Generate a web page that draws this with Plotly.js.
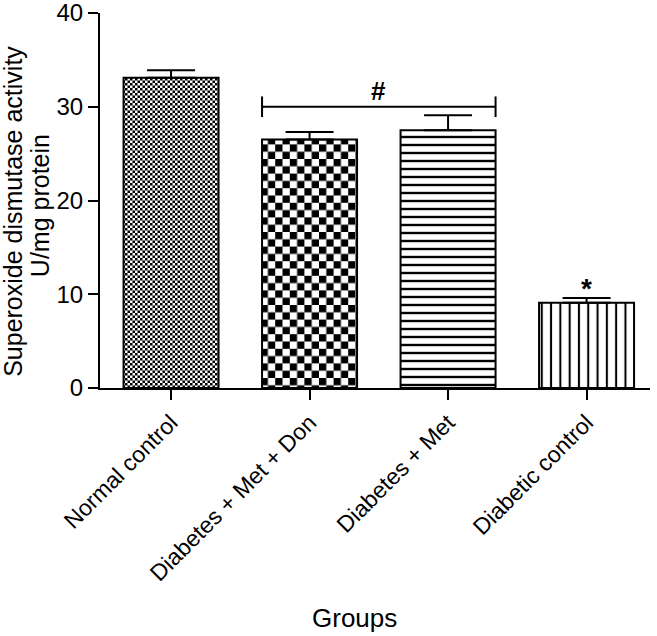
<!DOCTYPE html>
<html>
<head>
<meta charset="utf-8">
<script src="https://cdn.plot.ly/plotly-3.0.1.min.js"></script>
<style>
  body { margin: 0; background: white; }
  #chart { width: 657px; height: 636px; }
</style>
</head>
<body>
<div id="chart"></div>
<script>
// superoxide dismutase activity per group, mean + sem (upper only, graphpad style)
var groups = ["Normal control", "Diabetes + Met + Don", "Diabetes + Met", "Diabetic control"];
var sod = [33.1, 26.5, 27.5, 9.1];
var sem = [0.8, 0.8, 1.6, 0.5];
var noLower = [0, 0, 0, 0];

// significance marks
var hashGroups = [1, 2];   // bracket spans these two bars
var hashLevel = 30;
var starGroup = 3;
var starLevel = 10.6;

var yTitle = ["Superoxide dismutase activity", "U/mg protein"];

var barWidth = 0.686;
var fontFam = "Liberation Sans, Arial, sans-serif";

var trace = {
    x: groups,
    y: sod,
    type: "bar",
    width: barWidth,
    marker: {
        color: "white",
        line: {color: "black", width: 2},
        pattern: {
            // "." ones get swapped for checkerboards after drawing
            shape: [".", ".", "-", "|"],
            size: [5, 14.6, 8, 9.3],
            solidity: [0.5, 0.5, 0.3, 0.22],
            fgcolor: "black",
            bgcolor: "white",
            fillmode: "replace"
        }
    },
    error_y: {
        type: "data",
        symmetric: false,
        array: sem,
        arrayminus: noLower,
        color: "black",
        thickness: 2,
        width: 24
    },
    hoverinfo: "none"
};

var x0 = hashGroups[0] - barWidth / 2;
var x1 = hashGroups[1] + barWidth / 2;
function seg(a, b, c, d) {
    return {type: "line", xref: "x", yref: "y", x0: a, x1: b, y0: c, y1: d,
            line: {color: "black", width: 2}};
}

var layout = {
    width: 657,
    height: 636,
    margin: {l: 100, r: 7, t: 13, b: 248},
    paper_bgcolor: "white",
    plot_bgcolor: "white",
    showlegend: false,
    font: {family: fontFam, color: "black", size: 22},
    xaxis: {
        type: "category",
        range: [-0.513, 3.458],
        showline: true,
        linecolor: "black",
        linewidth: 2,
        ticks: "outside",
        ticklen: 10,
        tickwidth: 2,
        tickcolor: "black",
        tickangle: -45,
        tickfont: {size: 23},
        showgrid: false,
        automargin: false
    },
    yaxis: {
        range: [0, 40],
        tickvals: [0, 10, 20, 30, 40],
        showline: true,
        linecolor: "black",
        linewidth: 2,
        ticks: "outside",
        ticklen: 10,
        tickwidth: 2,
        tickcolor: "black",
        tickfont: {size: 24},
        ticklabeloverflow: "allow",
        showgrid: false,
        zeroline: false,
        automargin: false
    },
    shapes: [
        seg(x0, x1, hashLevel, hashLevel),
        seg(x0, x0, hashLevel - 1.1, hashLevel + 1.1),
        seg(x1, x1, hashLevel - 1.1, hashLevel + 1.1)
    ],
    annotations: [
        {x: (hashGroups[0] + hashGroups[1]) / 2, y: hashLevel + 1.7, xref: "x", yref: "y",
         text: "<b>#</b>", showarrow: false, font: {size: 26}, yanchor: "middle"},
        {x: starGroup, y: starLevel, xref: "x", yref: "y",
         text: "<b>*</b>", showarrow: false, font: {size: 28}, yanchor: "middle"},
        {x: -0.158, y: 0.47, xref: "paper", yref: "paper", textangle: -90,
         text: yTitle[0], showarrow: false,
         font: {size: 25}, xanchor: "center", yanchor: "middle"},
        {x: -0.109, y: 0.485, xref: "paper", yref: "paper", textangle: -90,
         text: yTitle[1], showarrow: false,
         font: {size: 25}, xanchor: "center", yanchor: "middle"},
        {x: 0.462, y: -0.613, xref: "paper", yref: "paper",
         text: "Groups", showarrow: false, font: {size: 26}, xanchor: "center", yanchor: "middle"}
    ]
};

function checkerboards(gd) {
    var ns = "http://www.w3.org/2000/svg";
    gd.querySelectorAll("pattern").forEach(function(p) {
        var s = parseFloat(p.getAttribute("width"));
        if (!p.querySelector("circle")) return;
        while (p.firstChild) p.removeChild(p.firstChild);
        var cells = [[0, 0, s, s, "white"], [0, 0, s / 2, s / 2, "black"], [s / 2, s / 2, s / 2, s / 2, "black"]];
        cells.forEach(function(c) {
            var r = document.createElementNS(ns, "rect");
            r.setAttribute("x", c[0]);
            r.setAttribute("y", c[1]);
            r.setAttribute("width", c[2]);
            r.setAttribute("height", c[3]);
            r.setAttribute("fill", c[4]);
            p.appendChild(r);
        });
    });
}

Plotly.newPlot("chart", [trace], layout, {displayModeBar: false}).then(checkerboards);
</script>
</body>
</html>
